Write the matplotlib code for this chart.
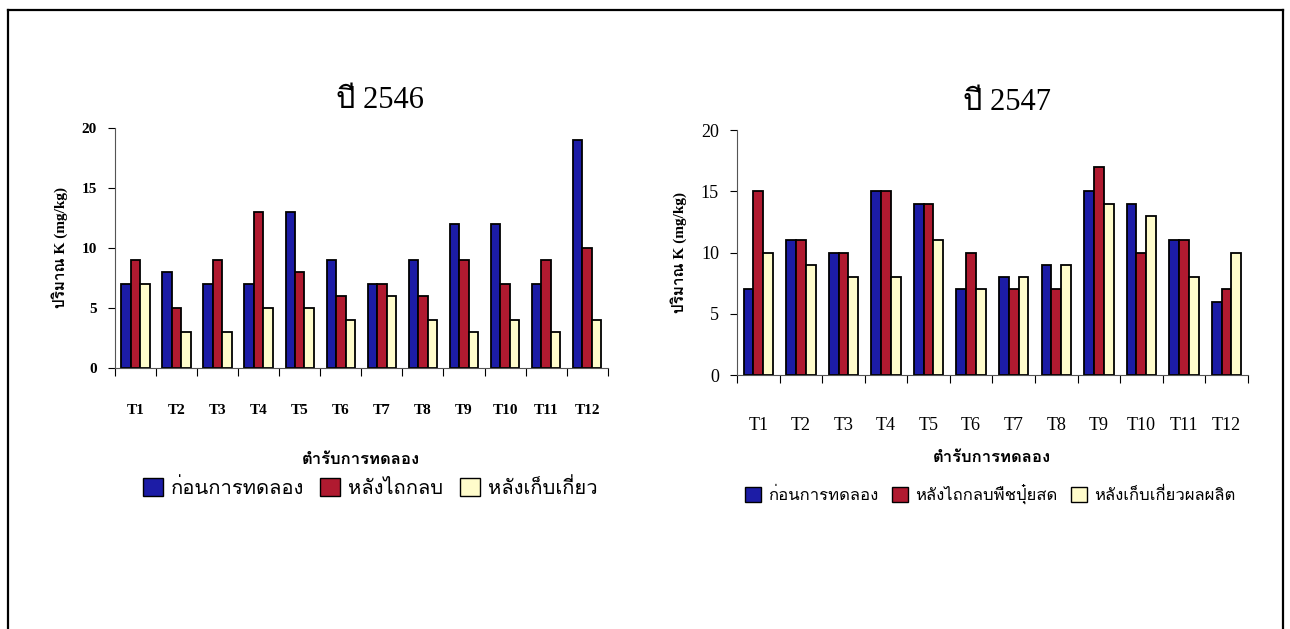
import matplotlib
matplotlib.use("Agg")
import matplotlib.pyplot as plt
import numpy as np
from matplotlib import font_manager, ft2font
from matplotlib.lines import Line2D
from matplotlib.patches import Patch

TREATMENTS = ["T1", "T2", "T3", "T4", "T5", "T6", "T7", "T8", "T9", "T10", "T11", "T12"]

# ปี 2546
BEFORE_46 = [7, 8, 7, 7, 13, 9, 7, 9, 12, 12, 7, 19]
AFTER_PLOW_46 = [9, 5, 9, 13, 8, 6, 7, 6, 9, 7, 9, 10]
AFTER_HARVEST_46 = [7, 3, 3, 5, 5, 4, 6, 4, 3, 4, 3, 4]

# ปี 2547
BEFORE_47 = [7, 11, 10, 15, 14, 7, 8, 9, 15, 14, 11, 6]
AFTER_PLOW_47 = [15, 11, 10, 15, 14, 10, 7, 7, 17, 10, 11, 7]
AFTER_HARVEST_47 = [10, 9, 8, 8, 11, 7, 8, 9, 14, 13, 8, 10]

LABELS_46 = ["ก่อนการทดลอง", "หลังไถกลบ", "หลังเก็บเกี่ยว"]
LABELS_47 = ["ก่อนการทดลอง", "หลังไถกลบพืชปุ๋ยสด", "หลังเก็บเกี่ยวผลผลิต"]

COLORS = ["#1c1ca6", "#b01a30", "#fffccb"]


def find_thai_font():
    # first installed font that has Thai glyphs
    for f in font_manager.fontManager.ttflist:
        try:
            if 0x0E01 in ft2font.FT2Font(f.fname).get_charmap():
                return f.name
        except Exception:
            continue
    return None


thai = find_thai_font()
THAI = [thai] if thai else []
# Latin in Times-like serif, Thai falls through to the Thai font
SERIF = ["Liberation Serif"] + THAI + ["DejaVu Serif"]
SANS = THAI + ["Liberation Sans", "DejaVu Sans"]

W, H = 1290, 629
fig = plt.figure(figsize=(W / 100, H / 100), dpi=100)


def draw_panel(rect, series, labels, title, title_x, bold_ticks, tick_size, pad,
               xlabel_y, legend_x, legend_y, legend_size):
    ax = fig.add_axes(rect)
    x = np.arange(len(TREATMENTS))
    w = 0.23
    for i, (vals, c) in enumerate(zip(series, COLORS)):
        ax.bar(x + (i - 1) * w, vals, width=w, color=c, edgecolor="black",
               linewidth=1.3, label=labels[i])
    ax.set_xlim(-0.5, len(TREATMENTS) - 0.5)
    ax.set_ylim(0, 20)
    ax.set_yticks([0, 5, 10, 15, 20])
    ax.set_xticks(x)
    ax.set_xticklabels(TREATMENTS)
    ax.set_xticks(np.arange(-0.5, len(TREATMENTS)), minor=True)
    ax.tick_params(axis="x", which="major", length=0, pad=pad)
    ax.tick_params(axis="x", which="minor", length=6, direction="out", width=0.8)
    ax.tick_params(axis="y", length=5, direction="out", width=0.8, pad=8)
    for lab in ax.get_xticklabels() + ax.get_yticklabels():
        lab.set_family(SERIF)
        lab.set_fontsize(tick_size)
        if bold_ticks:
            lab.set_fontweight("bold")
    for s in ["top", "right"]:
        ax.spines[s].set_visible(False)
    for s in ["left", "bottom"]:
        ax.spines[s].set_linewidth(0.8)
        ax.spines[s].set_color("#555555")
    ax.set_ylabel("ปริมาณ K (mg/kg)", family=SERIF, fontsize=11,
                  fontweight="bold", labelpad=10)

    cx = rect[0] + rect[2] / 2
    fig.text(title_x / W, rect[1] + rect[3] + 0.02, title, family=SERIF,
             fontsize=22, ha="center", va="bottom")
    fig.text(cx, xlabel_y, "ตำรับการทดลอง", family=SANS, fontsize=12,
             fontweight="bold", ha="center", va="center")
    handles = [Patch(facecolor=c, edgecolor="black", linewidth=1.0) for c in COLORS]
    fig.legend(handles, labels, loc="center", bbox_to_anchor=(legend_x / W, legend_y),
               ncol=3, frameon=False, handlelength=1.0, handleheight=1.0,
               handletextpad=0.4, columnspacing=0.8,
               prop={"family": SANS, "size": legend_size})
    return ax


draw_panel([0.0891, 0.415, 0.382, 0.3815],
           [BEFORE_46, AFTER_PLOW_46, AFTER_HARVEST_46], LABELS_46, "ปี 2546", 380,
           True, 11, 26, 1 - 460 / H, 370, 1 - 488 / H, 14.5)
draw_panel([0.5713, 0.4038, 0.396, 0.3895],
           [BEFORE_47, AFTER_PLOW_47, AFTER_HARVEST_47], LABELS_47, "ปี 2547", 1007,
           False, 13, 30, 1 - 458 / H, 990, 1 - 494 / H, 12)

# outer frame (open at the bottom)
fx0, fx1, fy = 8 / W, 1283 / W, 1 - 10 / H
for xs, ys in [([fx0, fx0], [0, fy]), ([fx0, fx1], [fy, fy]), ([fx1, fx1], [fy, 0])]:
    fig.add_artist(Line2D(xs, ys, transform=fig.transFigure, color="black",
                          linewidth=1.6))

fig.savefig("out.png", dpi=100, facecolor="white")
